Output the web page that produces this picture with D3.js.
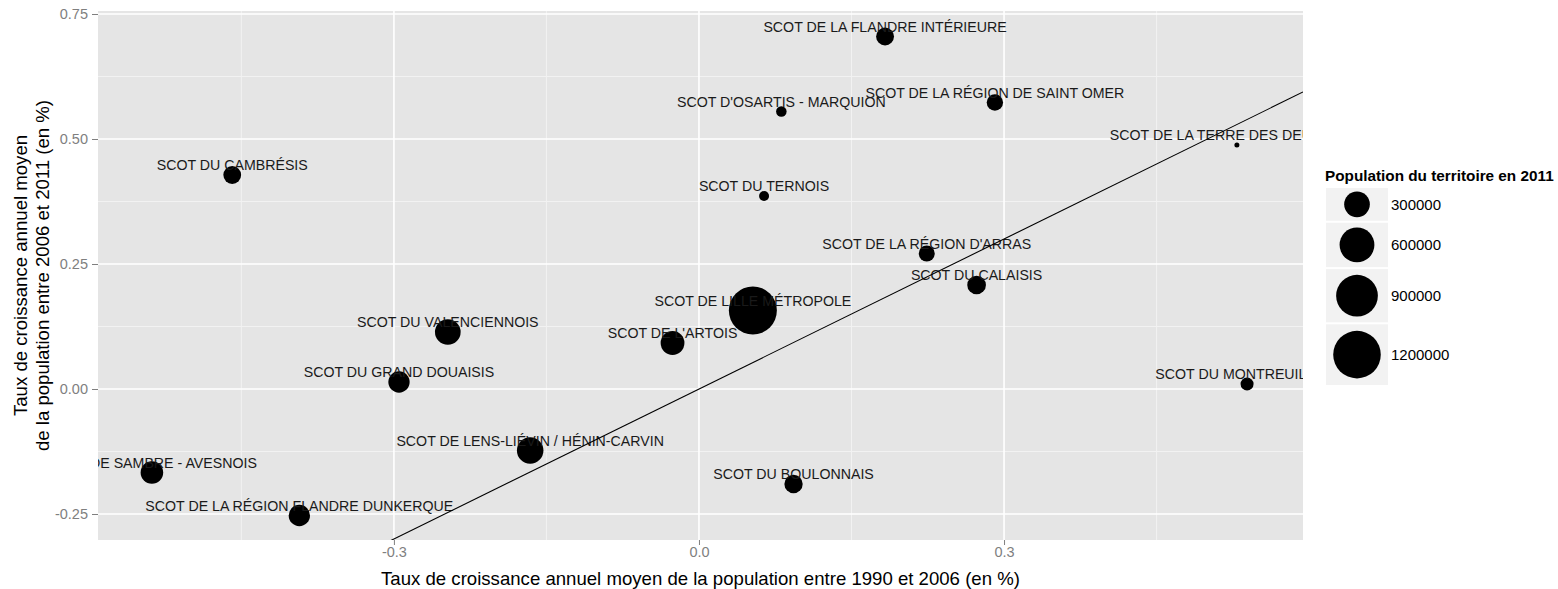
<!DOCTYPE html>
<html>
<head>
<meta charset="utf-8">
<script src="https://cdn.jsdelivr.net/npm/d3@7"></script>
<style>
  html, body { margin: 0; padding: 0; background: #ffffff; }
  svg { display: block; font-family: "Liberation Sans", Arial, sans-serif; }
</style>
</head>
<body>
<svg id="chart" width="1558" height="589"></svg>
<script>
// SCOT territories: growth 1990-2006 vs 2006-2011, sized by 2011 population
const territories = [
  "SCOT DE LA FLANDRE INTÉRIEURE",
  "SCOT D'OSARTIS - MARQUION",
  "SCOT DE LA RÉGION DE SAINT OMER",
  "SCOT DE LA TERRE DES DEUX CAPS",
  "SCOT DU CAMBRÉSIS",
  "SCOT DU TERNOIS",
  "SCOT DE LA RÉGION D'ARRAS",
  "SCOT DU CALAISIS",
  "SCOT DE LILLE MÉTROPOLE",
  "SCOT DU VALENCIENNOIS",
  "SCOT DE L'ARTOIS",
  "SCOT DU MONTREUILLOIS",
  "SCOT DU GRAND DOUAISIS",
  "SCOT DE LENS-LIÉVIN / HÉNIN-CARVIN",
  "SCOT DE SAMBRE - AVESNOIS",
  "SCOT DU BOULONNAIS",
  "SCOT DE LA RÉGION FLANDRE DUNKERQUE"
];
const growth1990_2006 = [0.183, 0.081, 0.291, 0.529, -0.459, 0.064, 0.224, 0.273, 0.053,
  -0.247, -0.026, 0.539, -0.295, -0.166, -0.538, 0.093, -0.393];
const growth2006_2011 = [0.705, 0.555, 0.573, 0.488, 0.428, 0.386, 0.271, 0.208, 0.157,
  0.114, 0.092, 0.010, 0.014, -0.123, -0.167, -0.190, -0.253];
const population2011 = [130000, 42000, 106000, 22000, 128000, 38000, 100000, 144000, 1225000,
  300000, 251000, 64000, 195000, 323000, 223000, 137000, 195000];

const xTicks = [-0.3, 0.0, 0.3];
const xTickLabels = ["-0.3", "0.0", "0.3"];
const xMinor = [-0.45, -0.15, 0.15, 0.45];
const yTicks = [-0.25, 0.00, 0.25, 0.50, 0.75];
const yTickLabels = ["-0.25", "0.00", "0.25", "0.50", "0.75"];
const yMinor = [-0.125, 0.125, 0.375, 0.625];
const legendBreaks = [300000, 600000, 900000, 1200000];

const xTitle = "Taux de croissance annuel moyen de la population entre 1990 et 2006 (en %)";
const yTitleLines = ["Taux de croissance annuel moyen", "de la population entre 2006 et 2011 (en %)"];
const legendTitle = "Population du territoire en 2011";

const data = territories.map((name, i) => ({
  name, x: growth1990_2006[i], y: growth2006_2011[i], pop: population2011[i]
}));

const svg = d3.select("#chart");
const panel = { left: 98, right: 1303, top: 11, bottom: 540 };

const x = d3.scaleLinear().domain([-0.591, 0.594]).range([panel.left, panel.right]);
const y = d3.scaleLinear().domain([-0.302, 0.756]).range([panel.bottom, panel.top]);

const popMin = d3.min(population2011), popMax = d3.max(population2011);
const rBase = d3.scaleSqrt().domain([0, popMax - popMin]).range([2.5, 24]);
const r = v => rBase(Math.max(0, v - popMin));

// panel background
svg.append("rect")
  .attr("x", panel.left).attr("y", panel.top)
  .attr("width", panel.right - panel.left).attr("height", panel.bottom - panel.top)
  .attr("fill", "#e5e5e5");

svg.append("clipPath").attr("id", "panelClip")
  .append("rect")
  .attr("x", panel.left).attr("y", panel.top)
  .attr("width", panel.right - panel.left).attr("height", panel.bottom - panel.top);

const grid = svg.append("g");
grid.selectAll(".xminor").data(xMinor).join("line")
  .attr("x1", d => x(d)).attr("x2", d => x(d))
  .attr("y1", panel.top).attr("y2", panel.bottom)
  .attr("stroke", "#f2f2f2").attr("stroke-width", 1);
grid.selectAll(".yminor").data(yMinor).join("line")
  .attr("y1", d => y(d)).attr("y2", d => y(d))
  .attr("x1", panel.left).attr("x2", panel.right)
  .attr("stroke", "#f2f2f2").attr("stroke-width", 1);
grid.selectAll(".xmajor").data(xTicks).join("line")
  .attr("x1", d => x(d)).attr("x2", d => x(d))
  .attr("y1", panel.top).attr("y2", panel.bottom)
  .attr("stroke", "#ffffff").attr("stroke-width", 1.6);
grid.selectAll(".ymajor").data(yTicks).join("line")
  .attr("y1", d => y(d)).attr("y2", d => y(d))
  .attr("x1", panel.left).attr("x2", panel.right)
  .attr("stroke", "#ffffff").attr("stroke-width", 1.6);

// axes
const xAxis = d3.axisBottom(x).tickValues(xTicks)
  .tickFormat((d, i) => xTickLabels[i]).tickSize(5).tickPadding(2);
const gx = svg.append("g").attr("transform", `translate(0,${panel.bottom})`).call(xAxis);
gx.select(".domain").remove();
gx.selectAll(".tick line").attr("stroke", "#7f7f7f");
gx.selectAll(".tick text").attr("fill", "#7f7f7f").attr("font-size", 14.5)
  .attr("font-family", "Liberation Sans, Arial, sans-serif");

const yAxis = d3.axisLeft(y).tickValues(yTicks)
  .tickFormat((d, i) => yTickLabels[i]).tickSize(6).tickPadding(4);
const gy = svg.append("g").attr("transform", `translate(${panel.left},0)`).call(yAxis);
gy.select(".domain").remove();
gy.selectAll(".tick line").attr("stroke", "#7f7f7f");
gy.selectAll(".tick text").attr("fill", "#7f7f7f").attr("font-size", 14.5)
  .attr("font-family", "Liberation Sans, Arial, sans-serif");

// axis titles
svg.append("text")
  .attr("x", (panel.left + panel.right) / 2).attr("y", 578)
  .attr("text-anchor", "middle").attr("dominant-baseline", "central")
  .attr("font-size", 18.6).attr("fill", "#000")
  .text(xTitle);

const yMid = (panel.top + panel.bottom) / 2;
yTitleLines.forEach((line, i) => {
  svg.append("text")
    .attr("transform", `translate(${20 + i * 22},${yMid}) rotate(-90)`)
    .attr("text-anchor", "middle").attr("dominant-baseline", "central")
    .attr("font-size", 18.6).attr("fill", "#000")
    .text(line);
});

// points, labels and the y = x reference line, clipped to the panel
const plot = svg.append("g").attr("clip-path", "url(#panelClip)");

plot.selectAll("circle.pt").data(data).join("circle")
  .attr("class", "pt")
  .attr("cx", d => x(d.x)).attr("cy", d => y(d.y))
  .attr("r", d => r(d.pop))
  .attr("fill", "#000");

plot.selectAll("text.lbl").data(data).join("text")
  .attr("class", "lbl")
  .attr("x", d => x(d.x)).attr("y", d => y(d.y + 0.02))
  .attr("text-anchor", "middle").attr("dominant-baseline", "central")
  .attr("font-size", 14.2).attr("fill", "#1a1a1a")
  .text(d => d.name);

const lineExtent = x.domain();
plot.append("line")
  .attr("x1", x(lineExtent[0])).attr("y1", y(lineExtent[0]))
  .attr("x2", x(lineExtent[1])).attr("y2", y(lineExtent[1]))
  .attr("stroke", "#000").attr("stroke-width", 1.1);

// size legend
const lg = svg.append("g");
lg.append("text")
  .attr("x", 1325).attr("y", 175)
  .attr("dominant-baseline", "central")
  .attr("font-size", 15.3).attr("font-weight", "bold").attr("fill", "#000")
  .text(legendTitle);

const keyW = 62;
let keyY = 188;
legendBreaks.forEach(v => {
  const rad = r(v);
  const h = Math.max(30, rad * 2.55);
  lg.append("rect")
    .attr("x", 1326).attr("y", keyY).attr("width", keyW).attr("height", h)
    .attr("fill", "#f2f2f2");
  lg.append("circle")
    .attr("cx", 1326 + keyW / 2).attr("cy", keyY + h / 2).attr("r", rad)
    .attr("fill", "#000");
  lg.append("text")
    .attr("x", 1391).attr("y", keyY + h / 2)
    .attr("dominant-baseline", "central")
    .attr("font-size", 15).attr("fill", "#000")
    .text(d3.format("d")(v));
  keyY += h + 2;
});
</script>
</body>
</html>
